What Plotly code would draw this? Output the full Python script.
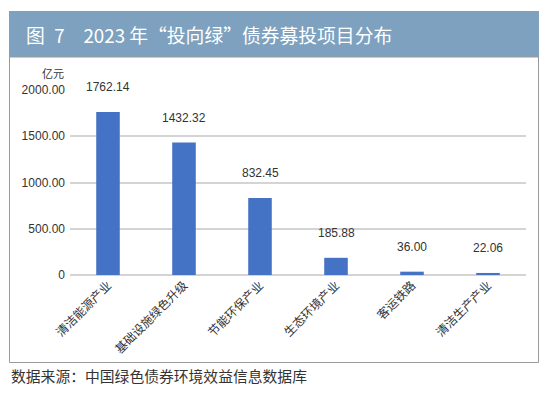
import plotly.graph_objects as go

categories = ["清洁能源产业", "基础设施绿色升级", "节能环保产业", "生态环境产业", "客运铁路", "清洁生产产业"]
values = [1762.14, 1432.32, 832.45, 185.88, 36.00, 22.06]
value_labels = ["1762.14", "1432.32", "832.45", "185.88", "36.00", "22.06"]
y_tickvals = [0, 500, 1000, 1500, 2000]
y_ticktext = ["0", "500.00", "1000.00", "1500.00", "2000.00"]

# page body has an 8px margin; figure coordinates are shifted accordingly
O = 8
W, H = 550 - 2 * O, 399 - 2 * O
L = 70 - O
T = 90 - O
R = W - (526 - O)
B = H - (275 - O)
PW = W - L - R
PH = H - T - B

def px(x):
    return (x - O - L) / PW

def py(y):
    return (H - B - (y - O)) / PH

CJK = "Noto Sans CJK SC"
LAT = "Liberation Sans, Arial, sans-serif"

fig = go.Figure()
fig.add_trace(go.Bar(
    x=categories, y=values,
    marker=dict(color="#4472C4", line=dict(width=0)),
    hoverinfo="skip",
))

annotations = []
for c, v, t in zip(categories, values, value_labels):
    annotations.append(dict(
        x=c, y=v, xref="x", yref="y", text=t, showarrow=False,
        yshift=25, font=dict(family=LAT, size=12, color="#333333"),
        xanchor="center", yanchor="middle",
    ))

annotations.append(dict(
    x=px(24), y=py(35), xref="paper", yref="paper",
    text="图\u20027\u20032023 年“投向绿”债券募投项目分布",
    showarrow=False, xanchor="left", yanchor="middle",
    font=dict(family=CJK, size=18.8, color="#FFFFFF"),
))
annotations.append(dict(
    x=px(53), y=py(73), xref="paper", yref="paper", text="亿元",
    showarrow=False, xanchor="center", yanchor="middle",
    font=dict(family=CJK, size=11, color="#333333"),
))
annotations.append(dict(
    x=px(9), y=py(375), xref="paper", yref="paper",
    text="数据来源：中国绿色债券环境效益信息数据库",
    showarrow=False, xanchor="left", yanchor="middle",
    font=dict(family=CJK, size=14.8, color="#333333"),
))

shapes = [
    dict(type="rect", xref="paper", yref="paper",
         x0=px(9), x1=px(539), y0=py(57), y1=py(11),
         fillcolor="#7DA1BE", line=dict(width=0), layer="below"),
    dict(type="rect", xref="paper", yref="paper",
         x0=px(9.5), x1=px(538.5), y0=py(362.5), y1=py(57),
         fillcolor="rgba(0,0,0,0)", line=dict(color="#9A9A9A", width=1)),
]

fig.update_layout(
    width=W, height=H,
    margin=dict(l=L, r=R, t=T, b=B, pad=0, autoexpand=False),
    paper_bgcolor="white", plot_bgcolor="white",
    showlegend=False,
    bargap=0.69,
    annotations=annotations,
    shapes=shapes,
    xaxis=dict(
        tickangle=-45, showgrid=False, showline=False, ticks="",
        tickfont=dict(family=CJK, size=12, color="#333333"),
        fixedrange=True, automargin=False,
    ),
    yaxis=dict(
        range=[0, 2000], tickvals=y_tickvals, ticktext=y_ticktext,
        showgrid=True, gridcolor="#D4D4D4", gridwidth=1.5,
        zeroline=True, zerolinecolor="#D4D4D4", zerolinewidth=1.5,
        showline=False, ticks="", ticklabelstandoff=4,
        tickfont=dict(family=LAT, size=12, color="#333333"),
        fixedrange=True, automargin=False,
    ),
)

fig.write_html("out.html")
